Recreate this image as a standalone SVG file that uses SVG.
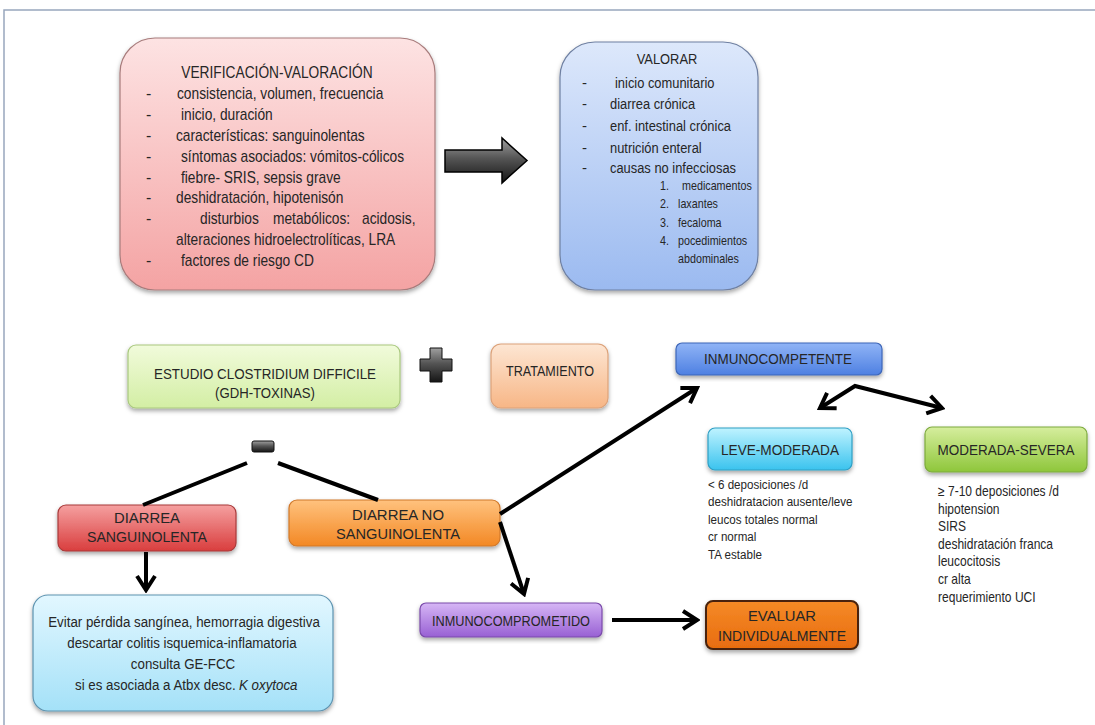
<svg xmlns="http://www.w3.org/2000/svg" width="1095" height="725" viewBox="0 0 1095 725">
<style>
.t{font-family:"Liberation Sans",Arial,sans-serif;fill:#262626;}
.s16{font-size:16px;}
.s15{font-size:15px;}
.s155{font-size:15.5px;}
.s14{font-size:14px;}
.s135{font-size:13.5px;}
.s125{font-size:12.5px;}
.m{text-anchor:middle;}
.box{filter:url(#sh);}
.conn{stroke:#000;stroke-width:4;fill:none;stroke-linecap:butt;}
</style>
<defs>
<filter id="sh" x="-10%" y="-10%" width="120%" height="130%"><feDropShadow dx="0" dy="2.5" stdDeviation="2" flood-color="#000" flood-opacity="0.35"/></filter>
<linearGradient id="gRed" x1="0" y1="0" x2="0" y2="1"><stop offset="0" stop-color="#fde3e3"/><stop offset="1" stop-color="#f4a3a3"/></linearGradient>
<linearGradient id="gVal" x1="0" y1="0" x2="0" y2="1"><stop offset="0" stop-color="#dde8fb"/><stop offset="1" stop-color="#9bbaf0"/></linearGradient>
<linearGradient id="gEst" x1="0" y1="0" x2="0" y2="1"><stop offset="0" stop-color="#f1fbdb"/><stop offset="1" stop-color="#d3eea4"/></linearGradient>
<linearGradient id="gTra" x1="0" y1="0" x2="0" y2="1"><stop offset="0" stop-color="#fde6d3"/><stop offset="1" stop-color="#f7b686"/></linearGradient>
<linearGradient id="gInm" x1="0" y1="0" x2="0" y2="1"><stop offset="0" stop-color="#90b4f6"/><stop offset="1" stop-color="#4e80e2"/></linearGradient>
<linearGradient id="gLev" x1="0" y1="0" x2="0" y2="1"><stop offset="0" stop-color="#bff3ff"/><stop offset="1" stop-color="#3ac3ee"/></linearGradient>
<linearGradient id="gMod" x1="0" y1="0" x2="0" y2="1"><stop offset="0" stop-color="#d6ee9e"/><stop offset="1" stop-color="#8ec63a"/></linearGradient>
<linearGradient id="gDs" x1="0" y1="0" x2="0" y2="1"><stop offset="0" stop-color="#f5a0a0"/><stop offset="1" stop-color="#d93e3e"/></linearGradient>
<linearGradient id="gDn" x1="0" y1="0" x2="0" y2="1"><stop offset="0" stop-color="#ffc27e"/><stop offset="1" stop-color="#f38824"/></linearGradient>
<linearGradient id="gEv" x1="0" y1="0" x2="0" y2="1"><stop offset="0" stop-color="#e2f7ff"/><stop offset="1" stop-color="#a4e1f8"/></linearGradient>
<linearGradient id="gPur" x1="0" y1="0" x2="0" y2="1"><stop offset="0" stop-color="#d6b6f5"/><stop offset="1" stop-color="#9860d4"/></linearGradient>
<linearGradient id="gEva" x1="0" y1="0" x2="0" y2="1"><stop offset="0" stop-color="#f58a26"/><stop offset="1" stop-color="#e86c10"/></linearGradient>
<linearGradient id="gDark" x1="0" y1="0" x2="0" y2="1"><stop offset="0" stop-color="#a0a0a0"/><stop offset="0.45" stop-color="#555"/><stop offset="1" stop-color="#151515"/></linearGradient>
<marker id="ah" viewBox="0 0 22 22" refX="19" refY="11" markerWidth="22" markerHeight="22" markerUnits="userSpaceOnUse" orient="auto-start-reverse">
<path d="M5,2 L19,11 L5,20" fill="none" stroke="#000" stroke-width="4"/>
</marker>
</defs>
<rect width="1095" height="725" fill="#fff"/>
<path d="M4,725 V10 H1095" fill="none" stroke="#98a6bd" stroke-width="1.5"/>

<g id="verificacion">
<rect class="box" x="120" y="38" width="315" height="252" rx="35" fill="url(#gRed)" stroke="#a87c7c" stroke-width="1.2"/>
<g class="t s16">
<text class="m" transform="translate(277,78) scale(0.86,1)">VERIFICACIÓN-VALORACIÓN</text>
<text x="146" y="99">-</text><text transform="translate(177,99) scale(0.86,1)">consistencia, volumen, frecuencia</text>
<text x="146" y="120">-</text><text transform="translate(181,120) scale(0.86,1)">inicio, duración</text>
<text x="146" y="141">-</text><text transform="translate(176,141) scale(0.86,1)">características: sanguinolentas</text>
<text x="146" y="162">-</text><text transform="translate(181,162) scale(0.86,1)">síntomas asociados: vómitos-cólicos</text>
<text x="146" y="183">-</text><text transform="translate(181,183) scale(0.86,1)">fiebre- SRIS, sepsis grave</text>
<text x="146" y="203">-</text><text transform="translate(176,203) scale(0.86,1)">deshidratación, hipotenisón</text>
<text x="146" y="224">-</text><text transform="translate(200,224) scale(0.86,1)">disturbios</text><text transform="translate(273,224) scale(0.86,1)">metabólicos:</text><text transform="translate(362,224) scale(0.86,1)">acidosis,</text>
<text transform="translate(176,245) scale(0.86,1)">alteraciones hidroelectrolíticas, LRA</text>
<text x="146" y="266">-</text><text transform="translate(181,266) scale(0.86,1)">factores de riesgo CD</text>
</g>
</g>

<g id="flecha-grande">
<polygon points="445,150 502,150 502,138 527,160.5 502,183 502,172 445,172" fill="url(#gDark)" stroke="#000" stroke-width="1.5"/>
</g>

<g id="valorar">
<rect class="box" x="560" y="42" width="198" height="248" rx="35" fill="url(#gVal)" stroke="#6f80a2" stroke-width="1.2"/>
<g class="t s15">
<text class="m" transform="translate(667,64) scale(0.86,1)">VALORAR</text>
<text x="582" y="88">-</text><text transform="translate(615,88) scale(0.86,1)">inicio comunitario</text>
<text x="582" y="109">-</text><text transform="translate(610,109) scale(0.86,1)">diarrea crónica</text>
<text x="582" y="131">-</text><text transform="translate(610,131) scale(0.86,1)">enf. intestinal crónica</text>
<text x="582" y="153">-</text><text transform="translate(610,153) scale(0.86,1)">nutrición enteral</text>
<text x="582" y="173">-</text><text transform="translate(610,173) scale(0.86,1)">causas no infecciosas</text>
</g>
<g class="t s125">
<text transform="translate(660,190) scale(0.86,1)">1.</text><text transform="translate(682,190) scale(0.86,1)">medicamentos</text>
<text transform="translate(660,208) scale(0.86,1)">2.</text><text transform="translate(678,208) scale(0.86,1)">laxantes</text>
<text transform="translate(660,227) scale(0.86,1)">3.</text><text transform="translate(678,227) scale(0.86,1)">fecaloma</text>
<text transform="translate(660,245) scale(0.86,1)">4.</text><text transform="translate(678,245) scale(0.86,1)">pocedimientos</text>
<text transform="translate(678,263) scale(0.86,1)">abdominales</text>
</g>
</g>

<g id="estudio">
<rect class="box" x="128" y="345" width="272" height="63" rx="8" fill="url(#gEst)" stroke="#a9c87f" stroke-width="1.2"/>
<text class="t s15 m" x="265" y="379" textLength="222" lengthAdjust="spacingAndGlyphs">ESTUDIO CLOSTRIDIUM DIFFICILE</text>
<text class="t s15 m" x="265" y="398" textLength="100" lengthAdjust="spacingAndGlyphs">(GDH-TOXINAS)</text>
</g>

<g id="mas">
<path d="M430,348 H442 V359 H452 V371 H442 V382 H430 V371 H420 V359 H430 Z" fill="url(#gDark)" stroke="#111" stroke-width="1"/>
</g>

<g id="tratamiento">
<rect class="box" x="491" y="344" width="117" height="64" rx="10" fill="url(#gTra)" stroke="#dca27a" stroke-width="1.2"/>
<text class="t s15 m" x="550" y="376" textLength="88" lengthAdjust="spacingAndGlyphs">TRATAMIENTO</text>
</g>

<g id="menos">
<rect x="252" y="441" width="22" height="11" rx="2" fill="url(#gDark)" stroke="#111" stroke-width="1"/>
</g>

<g id="inmunocompetente">
<rect class="box" x="676" y="343" width="206" height="32" rx="6" fill="url(#gInm)" stroke="#3d66b8" stroke-width="1.2"/>
<text class="t s14 m" x="778" y="364" textLength="148" lengthAdjust="spacingAndGlyphs">INMUNOCOMPETENTE</text>
</g>

<g id="leve-moderada">
<rect class="box" x="708" y="428" width="144" height="42" rx="7" fill="url(#gLev)" stroke="#2f9fc4" stroke-width="1.2"/>
<text class="t s15 m" x="780" y="455" textLength="118" lengthAdjust="spacingAndGlyphs">LEVE-MODERADA</text>
<g class="t s135">
<text transform="translate(708,489) scale(0.86,1)">&lt; 6 deposiciones /d</text>
<text transform="translate(708,506) scale(0.86,1)">deshidratacion ausente/leve</text>
<text transform="translate(708,524) scale(0.86,1)">leucos totales normal</text>
<text transform="translate(708,541) scale(0.86,1)">cr normal</text>
<text transform="translate(708,559) scale(0.86,1)">TA estable</text>
</g>
</g>

<g id="moderada-severa">
<rect class="box" x="925" y="427" width="162" height="45" rx="7" fill="url(#gMod)" stroke="#7daa3e" stroke-width="1.2"/>
<text class="t s15 m" x="1006" y="455" textLength="137" lengthAdjust="spacingAndGlyphs">MODERADA-SEVERA</text>
<g class="t s14">
<text transform="translate(938,496) scale(0.86,1)">≥ 7-10 deposiciones /d</text>
<text transform="translate(938,514) scale(0.86,1)">hipotension</text>
<text transform="translate(938,531) scale(0.86,1)">SIRS</text>
<text transform="translate(938,549) scale(0.86,1)">deshidratación franca</text>
<text transform="translate(938,566) scale(0.86,1)">leucocitosis</text>
<text transform="translate(938,584) scale(0.86,1)">cr alta</text>
<text transform="translate(938,602) scale(0.86,1)">requerimiento UCI</text>
</g>
</g>

<g id="diarrea-sanguinolenta">
<rect class="box" x="58" y="505" width="178" height="46" rx="8" fill="url(#gDs)" stroke="#a83a3a" stroke-width="1.2"/>
<text class="t s15 m" x="147" y="523" textLength="66" lengthAdjust="spacingAndGlyphs">DIARREA</text>
<text class="t s15 m" x="147" y="542" textLength="120" lengthAdjust="spacingAndGlyphs">SANGUINOLENTA</text>
</g>

<g id="diarrea-no-sanguinolenta">
<rect class="box" x="289" y="500" width="211" height="46" rx="8" fill="url(#gDn)" stroke="#d0782a" stroke-width="1.2"/>
<text class="t s15 m" x="398" y="520" textLength="92" lengthAdjust="spacingAndGlyphs">DIARREA NO</text>
<text class="t s15 m" x="398" y="539" textLength="124" lengthAdjust="spacingAndGlyphs">SANGUINOLENTA</text>
</g>

<g id="evitar">
<rect class="box" x="33" y="595" width="300" height="116" rx="15" fill="url(#gEv)" stroke="#5d93b0" stroke-width="1.2"/>
<g class="t s155">
<text class="m" transform="translate(184,627) scale(0.86,1)">Evitar pérdida sangínea, hemorragia digestiva</text>
<text class="m" transform="translate(182,648) scale(0.86,1)">descartar colitis isquemica-inflamatoria</text>
<text class="m" transform="translate(183,669) scale(0.86,1)">consulta GE-FCC</text>
<text transform="translate(75,690) scale(0.86,1)">si es asociada a Atbx desc.</text>
<text transform="translate(239,690) scale(0.86,1)" font-style="italic">K oxytoca</text>
</g>
</g>

<g id="inmunocomprometido">
<rect class="box" x="420" y="603" width="182" height="34" rx="6" fill="url(#gPur)" stroke="#7a4aaa" stroke-width="1.2"/>
<text class="t s14 m" x="511" y="626" textLength="158" lengthAdjust="spacingAndGlyphs">INMUNOCOMPROMETIDO</text>
</g>

<g id="evaluar">
<rect class="box" x="706" y="601" width="152" height="48" rx="7" fill="url(#gEva)" stroke="#4a2408" stroke-width="2"/>
<text class="t s15 m" x="782" y="621" textLength="68" lengthAdjust="spacingAndGlyphs">EVALUAR</text>
<text class="t s15 m" x="782" y="641" textLength="128" lengthAdjust="spacingAndGlyphs">INDIVIDUALMENTE</text>
</g>

<g id="conectores">
<line class="conn" x1="247" y1="463" x2="143" y2="505"/>
<line class="conn" x1="278" y1="463" x2="378" y2="500"/>
<line class="conn" x1="146" y1="552" x2="146" y2="590" marker-end="url(#ah)"/>
<line class="conn" x1="500" y1="514" x2="697" y2="388" marker-end="url(#ah)"/>
<line class="conn" x1="500" y1="522" x2="524" y2="594" marker-end="url(#ah)"/>
<polyline class="conn" points="820,408 855,386 942,408" marker-start="url(#ah)" marker-end="url(#ah)"/>
<line class="conn" x1="612" y1="620" x2="697" y2="620" marker-end="url(#ah)"/>
</g>
</svg>
